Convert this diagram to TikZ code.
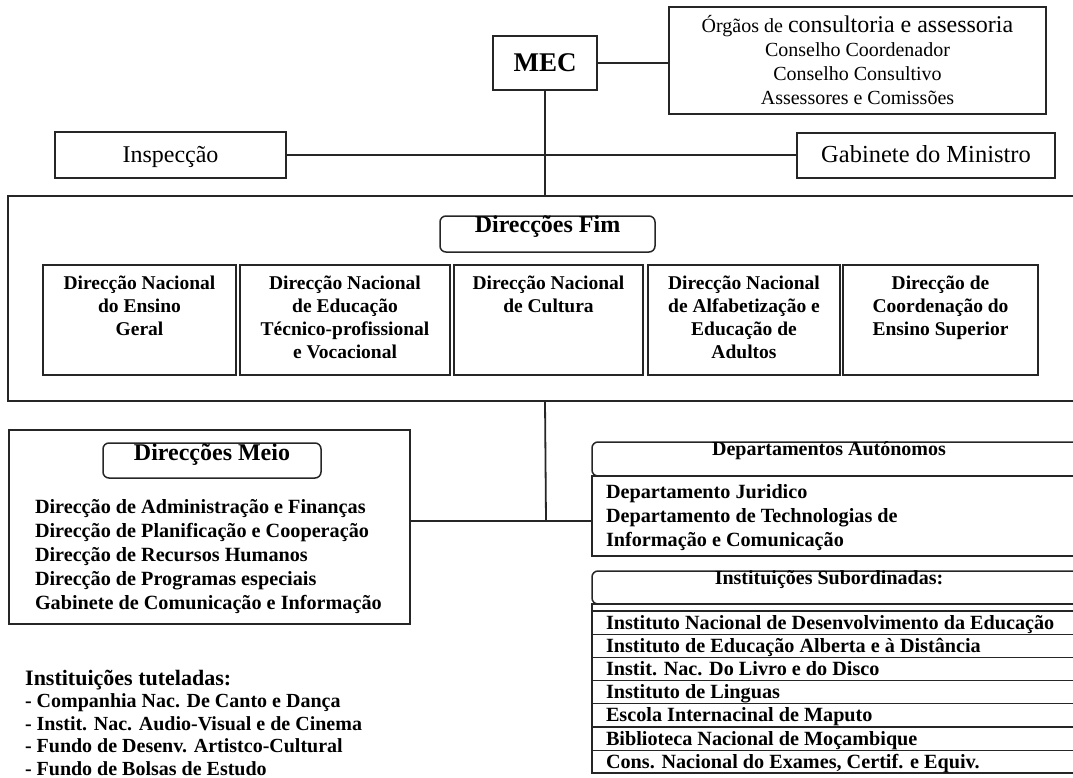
\documentclass[tikz,border=0pt]{standalone}
\usepackage{fontspec}
\setmainfont{Liberation Serif}
\begin{document}
\begin{tikzpicture}[x=1pt,y=-1pt,
  frame/.style={draw=black!85, line width=1.5pt, inner sep=0pt, outer sep=0pt, anchor=north west},
  heavy/.style={frame, line width=2pt},
  thin/.style={frame, line width=1.2pt},
  rhead/.style={frame, rounded corners=6pt},
  conn/.style={draw=black!85, line width=1.8pt},
  rowline/.style={draw=black!85, line width=1.2pt},
  bt/.style={font=\fontsize{19.5}{23}\selectfont\bfseries, inner sep=0pt, outer sep=0pt},
  bl/.style={font=\fontsize{20.2}{24}\selectfont\bfseries, inner sep=0pt, outer sep=0pt, anchor=base west},
  ht/.style={font=\fontsize{24}{28}\selectfont\bfseries, inner sep=0pt, anchor=base},
  st/.style={font=\fontsize{20}{24}\selectfont\bfseries, inner sep=0pt, anchor=base},
  rt/.style={font=\fontsize{20}{24}\selectfont, inner sep=0pt, anchor=base},
]
\useasboundingbox (0,0) rectangle (1073,778);
\clip (0,0) rectangle (1073,778);

% MEC and advisory bodies
\node[heavy, minimum width=104pt, minimum height=54pt, font=\fontsize{27}{30}\selectfont\bfseries] (mec) at (493,36) {MEC};
\node[frame, minimum width=377pt, minimum height=107pt] (org) at (669,7) {};
\node[rt] (o1) at (857.5,33) {Órgãos de \fontsize{24}{28}\selectfont consultoria e assessoria};
\node[rt] (o2) at (857.5,57) {Conselho Coordenador};
\node[rt] (o3) at (857.5,81) {Conselho Consultivo};
\node[rt] (o4) at (857.5,105) {Assessores e Comissões};

% Inspecção / Gabinete
\node[frame, minimum width=231pt, minimum height=46pt] (insp) at (55,132) {};
\node[font=\fontsize{24}{28}\selectfont, inner sep=0pt, anchor=base] (inspt) at (170.5,163) {Inspecção};
\node[frame, minimum width=258pt, minimum height=45pt] (gab) at (797,133) {};
\node[font=\fontsize{24.5}{28}\selectfont, inner sep=0pt, anchor=base] (gabt) at (926,163) {Gabinete do Ministro};

% Direcções Fim
\node[heavy, minimum width=1082pt, minimum height=205pt] (big) at (8,196) {};
\node[rhead, minimum width=215pt, minimum height=36pt] (fimh) at (440,216) {};
\node[ht] (fimt) at (547.5,233) {Direcções Fim};

\node[thin, minimum width=193pt, minimum height=110pt] (f1) at (43,265) {};
\node[thin, minimum width=210pt, minimum height=110pt] (f2) at (240,265) {};
\node[thin, minimum width=189pt, minimum height=110pt] (f3) at (454,265) {};
\node[thin, minimum width=192pt, minimum height=110pt] (f4) at (648,265) {};
\node[thin, minimum width=195pt, minimum height=110pt] (f5) at (843,265) {};
\node[bt, anchor=north, align=center] (f1t) at (139.5,276) {Direcção Nacional\\do Ensino\\Geral};
\node[bt, anchor=north, align=center] (f2t) at (345,276) {Direcção Nacional\\de Educação\\Técnico-profissional\\e Vocacional};
\node[bt, anchor=north, align=center] (f3t) at (548.5,276) {Direcção Nacional\\de Cultura};
\node[bt, anchor=north, align=center] (f4t) at (744,276) {Direcção Nacional\\de Alfabetização e\\Educação de\\Adultos};
\node[bt, anchor=north, align=center] (f5t) at (940.5,276) {Direcção de\\Coordenação do\\Ensino Superior};

% Direcções Meio
\node[heavy, minimum width=401pt, minimum height=194pt] (meio) at (9,430) {};
\node[rhead, minimum width=218pt, minimum height=35pt] (meioh) at (103,443) {};
\node[ht] (meiot) at (212,460) {Direcções Meio};
\node[bl] (m1) at (35,513) {Direcção de Administração e Finanças};
\node[bl] (m2) at (35,537) {Direcção de Planificação e Cooperação};
\node[bl] (m3) at (35,561) {Direcção de Recursos Humanos};
\node[bl] (m4) at (35,585) {Direcção de Programas especiais};
\node[bl] (m5) at (35,609) {Gabinete de Comunicação e Informação};

% Departamentos Autónomos
\node[frame, minimum width=490pt, minimum height=80pt] (dept) at (592,476) {};
\node[rhead, minimum width=490pt, minimum height=34pt] (depth) at (592,442) {};
\node[st] (deptt) at (829,455) {Departamentos Autónomos};
\node[bl] (d1) at (606,498) {Departamento Juridico};
\node[bl] (d2) at (606,522) {Departamento de Technologias de};
\node[bl] (d3) at (606,546) {Informação e Comunicação};

% Instituições Subordinadas
\node[rhead, minimum width=490pt, minimum height=33pt] (insth) at (592,571) {};
\node[st] (instt) at (829,584) {Instituições Subordinadas:};
\node[frame, minimum width=490pt, minimum height=169pt] (tab) at (592,604) {};
\foreach \k in {0,...,6} {
  \draw[rowline] (592,{611+23.2*\k}) -- (1082,{611+23.2*\k});
}
\node[bl] (s1) at (606,629) {Instituto Nacional de Desenvolvimento da Educação};
\node[bl] (s2) at (606,652.2) {Instituto de Educação Alberta e à Distância};
\node[bl] (s3) at (606,675.4) {Instit. Nac. Do Livro e do Disco};
\node[bl] (s4) at (606,698.6) {Instituto de Linguas};
\node[bl] (s5) at (606,721.8) {Escola Internacinal de Maputo};
\node[bl] (s6) at (606,745) {Biblioteca Nacional de Moçambique};
\node[bl] (s7) at (606,768.2) {Cons. Nacional do Exames, Certif. e Equiv.};

% Instituições tuteladas
\node[font=\fontsize{22}{26}\selectfont\bfseries, inner sep=0pt, anchor=base west] (tut) at (25,685) {Instituições tuteladas:};
\node[bl, font=\fontsize{20}{24}\selectfont\bfseries] (t1) at (25,707.5) {- Companhia Nac. De Canto e Dança};
\node[bl, font=\fontsize{20}{24}\selectfont\bfseries] (t2) at (25,730) {- Instit. Nac. Audio-Visual e de Cinema};
\node[bl, font=\fontsize{20}{24}\selectfont\bfseries] (t3) at (25,752.5) {- Fundo de Desenv. Artistco-Cultural};
\node[bl, font=\fontsize{20}{24}\selectfont\bfseries] (t4) at (25,775) {- Fundo de Bolsas de Estudo};

% Connectors
\coordinate (jn) at (546,521);
\draw[conn] (mec.east) -- (mec.east -| org.west);
\draw[conn] (mec.south) -- (mec.south |- big.north);
\draw[conn] (insp.east) -- (insp.east -| gab.west);
\draw[conn] (mec.south |- big.south) -- (jn);
\draw[conn] (meio.east |- jn) -- (jn -| dept.west);
\end{tikzpicture}
\end{document}
